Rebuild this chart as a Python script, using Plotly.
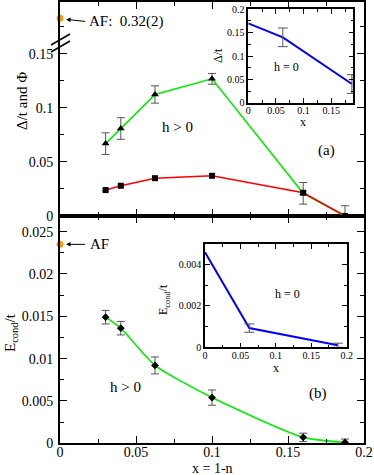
import plotly.graph_objects as go

# ---------------- data ----------------
x_dop = [0.03, 0.04, 0.0625, 0.1, 0.16, 0.1875]
delta_h = [0.067, 0.081, 0.1125, 0.127, 0.021, 0.0]
delta_h_err = [0.010, 0.010, 0.008, 0.005, 0.010, 0.0095]
phi_h = [0.024, 0.028, 0.035, 0.0372, 0.0215, 0.0]
phi_h_err = [0.0012, 0.0012, 0.0012, 0.0012, 0.0012, 0.0012]
econd_h = [0.0149, 0.0136, 0.0092, 0.0054, 0.0007, 0.0001]
econd_h_err = [0.0008, 0.0008, 0.0010, 0.0009, 0.0005, 0.0004]

x_h0 = [0.0, 0.0625, 0.1875]
delta_h0 = [0.17, 0.14, 0.04]
delta_h0_err = [0.0, 0.02, 0.02]
econd_h0 = [0.0046, 0.00093, 0.0001]
econd_h0_err = [0.0, 0.0002, 0.0001]

af_x = [0.0]
af_delta = 0.32          # value shown above the axis break
af_delta_label = "AF:  0.32(2)"
af_econd = [0.0235]

# ---------------- style ----------------
FONT = "Liberation Serif, Times New Roman, DejaVu Serif, serif"
AF_BREAK_POS = 0.183     # display position of AF point above the axis break
ERR_COL = "#555555"
GREEN = "#00ee00"
X_DOM = [60 / 374, 364 / 374]
TOP_DOM = [1 - 216 / 475, 1 - 2 / 475]
BOT_DOM = [1 - 443.3 / 475, 1 - 216 / 475]

fig = go.Figure()

# ---- top panel (x2, y2) ----
fig.add_trace(go.Scatter(x=x_dop, y=delta_h, mode="lines", line=dict(color=GREEN, width=1.6),
                         xaxis="x2", yaxis="y2", hoverinfo="skip"))
fig.add_trace(go.Scatter(x=x_dop, y=phi_h, mode="lines", line=dict(color="#ff0000", width=1.6),
                         xaxis="x2", yaxis="y2", hoverinfo="skip"))
fig.add_trace(go.Scatter(x=x_dop, y=delta_h, mode="markers",
                         marker=dict(symbol="triangle-up", size=7, color="black"),
                         error_y=dict(type="data", array=delta_h_err, color=ERR_COL, thickness=1, width=4),
                         xaxis="x2", yaxis="y2"))
fig.add_trace(go.Scatter(x=x_dop, y=phi_h, mode="markers",
                         marker=dict(symbol="square", size=6, color="black"),
                         error_y=dict(type="data", array=phi_h_err, color=ERR_COL, thickness=1, width=3),
                         xaxis="x2", yaxis="y2"))
fig.add_trace(go.Scatter(x=af_x, y=[AF_BREAK_POS], mode="markers",
                         marker=dict(size=7, color="#f5a000"), cliponaxis=False,
                         xaxis="x2", yaxis="y2"))

# ---- bottom panel (x, y) ----
fig.add_trace(go.Scatter(x=x_dop, y=econd_h, mode="lines", line=dict(color=GREEN, width=1.6, shape="spline", smoothing=0.6),
                         xaxis="x", yaxis="y", hoverinfo="skip"))
fig.add_trace(go.Scatter(x=x_dop, y=econd_h, mode="markers",
                         marker=dict(symbol="diamond", size=6, color="black"),
                         error_y=dict(type="data", array=econd_h_err, color=ERR_COL, thickness=1, width=4),
                         xaxis="x", yaxis="y"))
fig.add_trace(go.Scatter(x=af_x, y=af_econd, mode="markers",
                         marker=dict(size=7, color="#f5a000"), cliponaxis=False,
                         xaxis="x", yaxis="y"))

# ---- top inset (x3, y3) ----
fig.add_trace(go.Scatter(x=x_h0, y=delta_h0, mode="lines", line=dict(color="#0000ff", width=2),
                         xaxis="x3", yaxis="y3", hoverinfo="skip"))
fig.add_trace(go.Scatter(x=x_h0[1:], y=delta_h0[1:], mode="markers", marker=dict(size=1, color="rgba(0,0,0,0)"),
                         error_y=dict(type="data", array=delta_h0_err[1:], color=ERR_COL, thickness=1, width=5),
                         xaxis="x3", yaxis="y3"))

# ---- bottom inset (x4, y4) ----
fig.add_trace(go.Scatter(x=x_h0, y=econd_h0, mode="lines", line=dict(color="#0000ff", width=2),
                         xaxis="x4", yaxis="y4", hoverinfo="skip"))
fig.add_trace(go.Scatter(x=x_h0[1:], y=econd_h0[1:], mode="markers", marker=dict(size=1, color="rgba(0,0,0,0)"),
                         error_y=dict(type="data", array=econd_h0_err[1:], color=ERR_COL, thickness=1, width=5),
                         xaxis="x4", yaxis="y4"))


def main_axis(**kw):
    d = dict(showgrid=False, zeroline=False, showline=True, linecolor="black", linewidth=2,
             ticks="inside", ticklen=7, tickwidth=1, tickcolor="black", mirror="ticks",
             automargin=False, ticklabelstandoff=2,
             tickfont=dict(family=FONT, size=14, color="black"))
    d.update(kw)
    return d


def inset_axis(**kw):
    d = dict(showgrid=False, zeroline=False, showline=True, linecolor="black", linewidth=1.5,
             ticks="inside", ticklen=5, tickwidth=1, tickcolor="black", mirror="ticks",
             automargin=False,
             tickfont=dict(family=FONT, size=10, color="black"), ticklabelstandoff=0)
    d.update(kw)
    return d


fig.update_layout(
    template="none",
    width=374, height=475,
    margin=dict(l=0, r=0, t=0, b=0, autoexpand=False),
    paper_bgcolor="white", plot_bgcolor="white",
    showlegend=False,
    font=dict(family=FONT, color="black"),
    xaxis=main_axis(domain=X_DOM, anchor="y", range=[0, 0.2], dtick=0.05, tick0=0, ticklabelstandoff=-5,
                    minor=dict(ticks="inside", ticklen=4, dtick=0.025, tickcolor="black")),
    yaxis=main_axis(domain=BOT_DOM, anchor="x", range=[0, 0.02685], dtick=0.005, tick0=0,
                    minor=dict(ticks="inside", ticklen=4, dtick=0.0025, tickcolor="black")),
    xaxis2=main_axis(domain=X_DOM, anchor="y2", range=[0, 0.2], dtick=0.05, tick0=0, showticklabels=False,
                     minor=dict(ticks="inside", ticklen=4, dtick=0.025, tickcolor="black")),
    yaxis2=main_axis(domain=TOP_DOM, anchor="x2", range=[0, 0.1981], dtick=0.05, tick0=0,
                     minor=dict(ticks="inside", ticklen=4, dtick=0.025, tickcolor="black")),
    xaxis3=inset_axis(domain=[248.3 / 374, 353.3 / 374], anchor="y3", range=[0, 0.19], dtick=0.05, tick0=0,
                      ticklabelstandoff=-2,
                      minor=dict(ticks="inside", ticklen=3, dtick=0.025, tickcolor="black")),
    yaxis3=inset_axis(domain=[1 - 102.7 / 475, 1 - 9.3 / 475], anchor="x3", range=[0, 0.2], dtick=0.05, tick0=0,
                      minor=dict(ticks="inside", ticklen=3, dtick=0.025, tickcolor="black")),
    xaxis4=inset_axis(domain=[205 / 374, 346.7 / 374], anchor="y4", range=[0, 0.2], dtick=0.05, tick0=0,
                      ticklabelstandoff=-2,
                      minor=dict(ticks="inside", ticklen=3, dtick=0.025, tickcolor="black")),
    yaxis4=inset_axis(domain=[1 - 347.3 / 475, 1 - 244 / 475], anchor="x4", range=[0, 0.005], dtick=0.002, tick0=0,
                      minor=dict(ticks="inside", ticklen=3, dtick=0.001, tickcolor="black")),
)

tf = dict(family=FONT, size=15, color="black")
tft = dict(family=FONT, size=14, color="black")
tfs = dict(family=FONT, size=12, color="black")
C = dict(xanchor="center", yanchor="middle", showarrow=False)
ann = [
    # axis titles
    dict(text="Δ/t and Φ", x=22 / 374, y=1 - 101 / 475, xref="paper", yref="paper", textangle=-90, font=tf, **C),
    dict(text="E<sub>cond</sub>/t", x=11 / 374, y=1 - 333 / 475, xref="paper", yref="paper", textangle=-90,
         font=tf, **C),
    dict(text="x = 1-n", x=212 / 374, y=1 - 468 / 475, xref="paper", yref="paper", font=tft, borderpad=0, **C),
    dict(text="Δ/t", x=218 / 374, y=1 - 56 / 475, xref="paper", yref="paper", textangle=-90, font=tfs, **C),
    dict(text="x", x=303 / 374, y=1 - 122 / 475, xref="paper", yref="paper", font=tfs, **C),
    dict(text="E<sub>cond</sub>/t", x=164 / 374, y=1 - 300 / 475, xref="paper", yref="paper", textangle=-90,
         font=tfs, **C),
    dict(text="x", x=276 / 374, y=1 - 368 / 475, xref="paper", yref="paper", font=tfs, **C),
    # panel labels
    dict(text="h > 0", x=0.077, y=0.082, xref="x2", yref="y2", font=tf, **C),
    dict(text="(a)", x=0.175, y=0.061, xref="x2", yref="y2", font=tf, **C),
    dict(text="h > 0", x=0.043, y=0.0067, xref="x", yref="y", font=tf, **C),
    dict(text="(b)", x=0.170, y=0.0059, xref="x", yref="y", font=tf, **C),
    dict(text="h = 0", x=0.070, y=0.077, xref="x3", yref="y3", font=tfs, **C),
    dict(text="h = 0", x=0.117, y=0.0026, xref="x4", yref="y4", font=tfs, **C),
    # AF labels
    dict(text=af_delta_label, x=0.0175, y=AF_BREAK_POS - 0.003, xref="x2", yref="y2", xanchor="left",
         yanchor="middle", showarrow=False, font=tf),
    dict(text="AF", x=0.0183, y=af_econd[0], xref="x", yref="y", xanchor="left", yanchor="middle",
         showarrow=False, font=tf),
    # arrows
    dict(x=0.004, y=AF_BREAK_POS - 0.001, xref="x2", yref="y2", ax=0.0175, ay=AF_BREAK_POS - 0.003,
         axref="x2", ayref="y2", text="", showarrow=True, arrowhead=2, arrowsize=0.9,
         arrowwidth=1, arrowcolor="black"),
    dict(x=0.004, y=af_econd[0], xref="x", yref="y", ax=0.0175, ay=af_econd[0],
         axref="x", ayref="y", text="", showarrow=True, arrowhead=2, arrowsize=0.9,
         arrowwidth=1, arrowcolor="black"),
]
fig.update_layout(annotations=ann)

# axis break marks on the left axis of the top panel
for dy in (0, 7):
    fig.add_shape(type="line", xref="paper", yref="paper",
                  x0=51 / 374, y0=1 - (45 + dy) / 475, x1=70 / 374, y1=1 - (34 + dy) / 475,
                  line=dict(color="black", width=1.5))

fig.write_html("out.html", config={"displayModeBar": False},
               post_script="document.body.style.margin='0';document.body.style.overflow='hidden';")
